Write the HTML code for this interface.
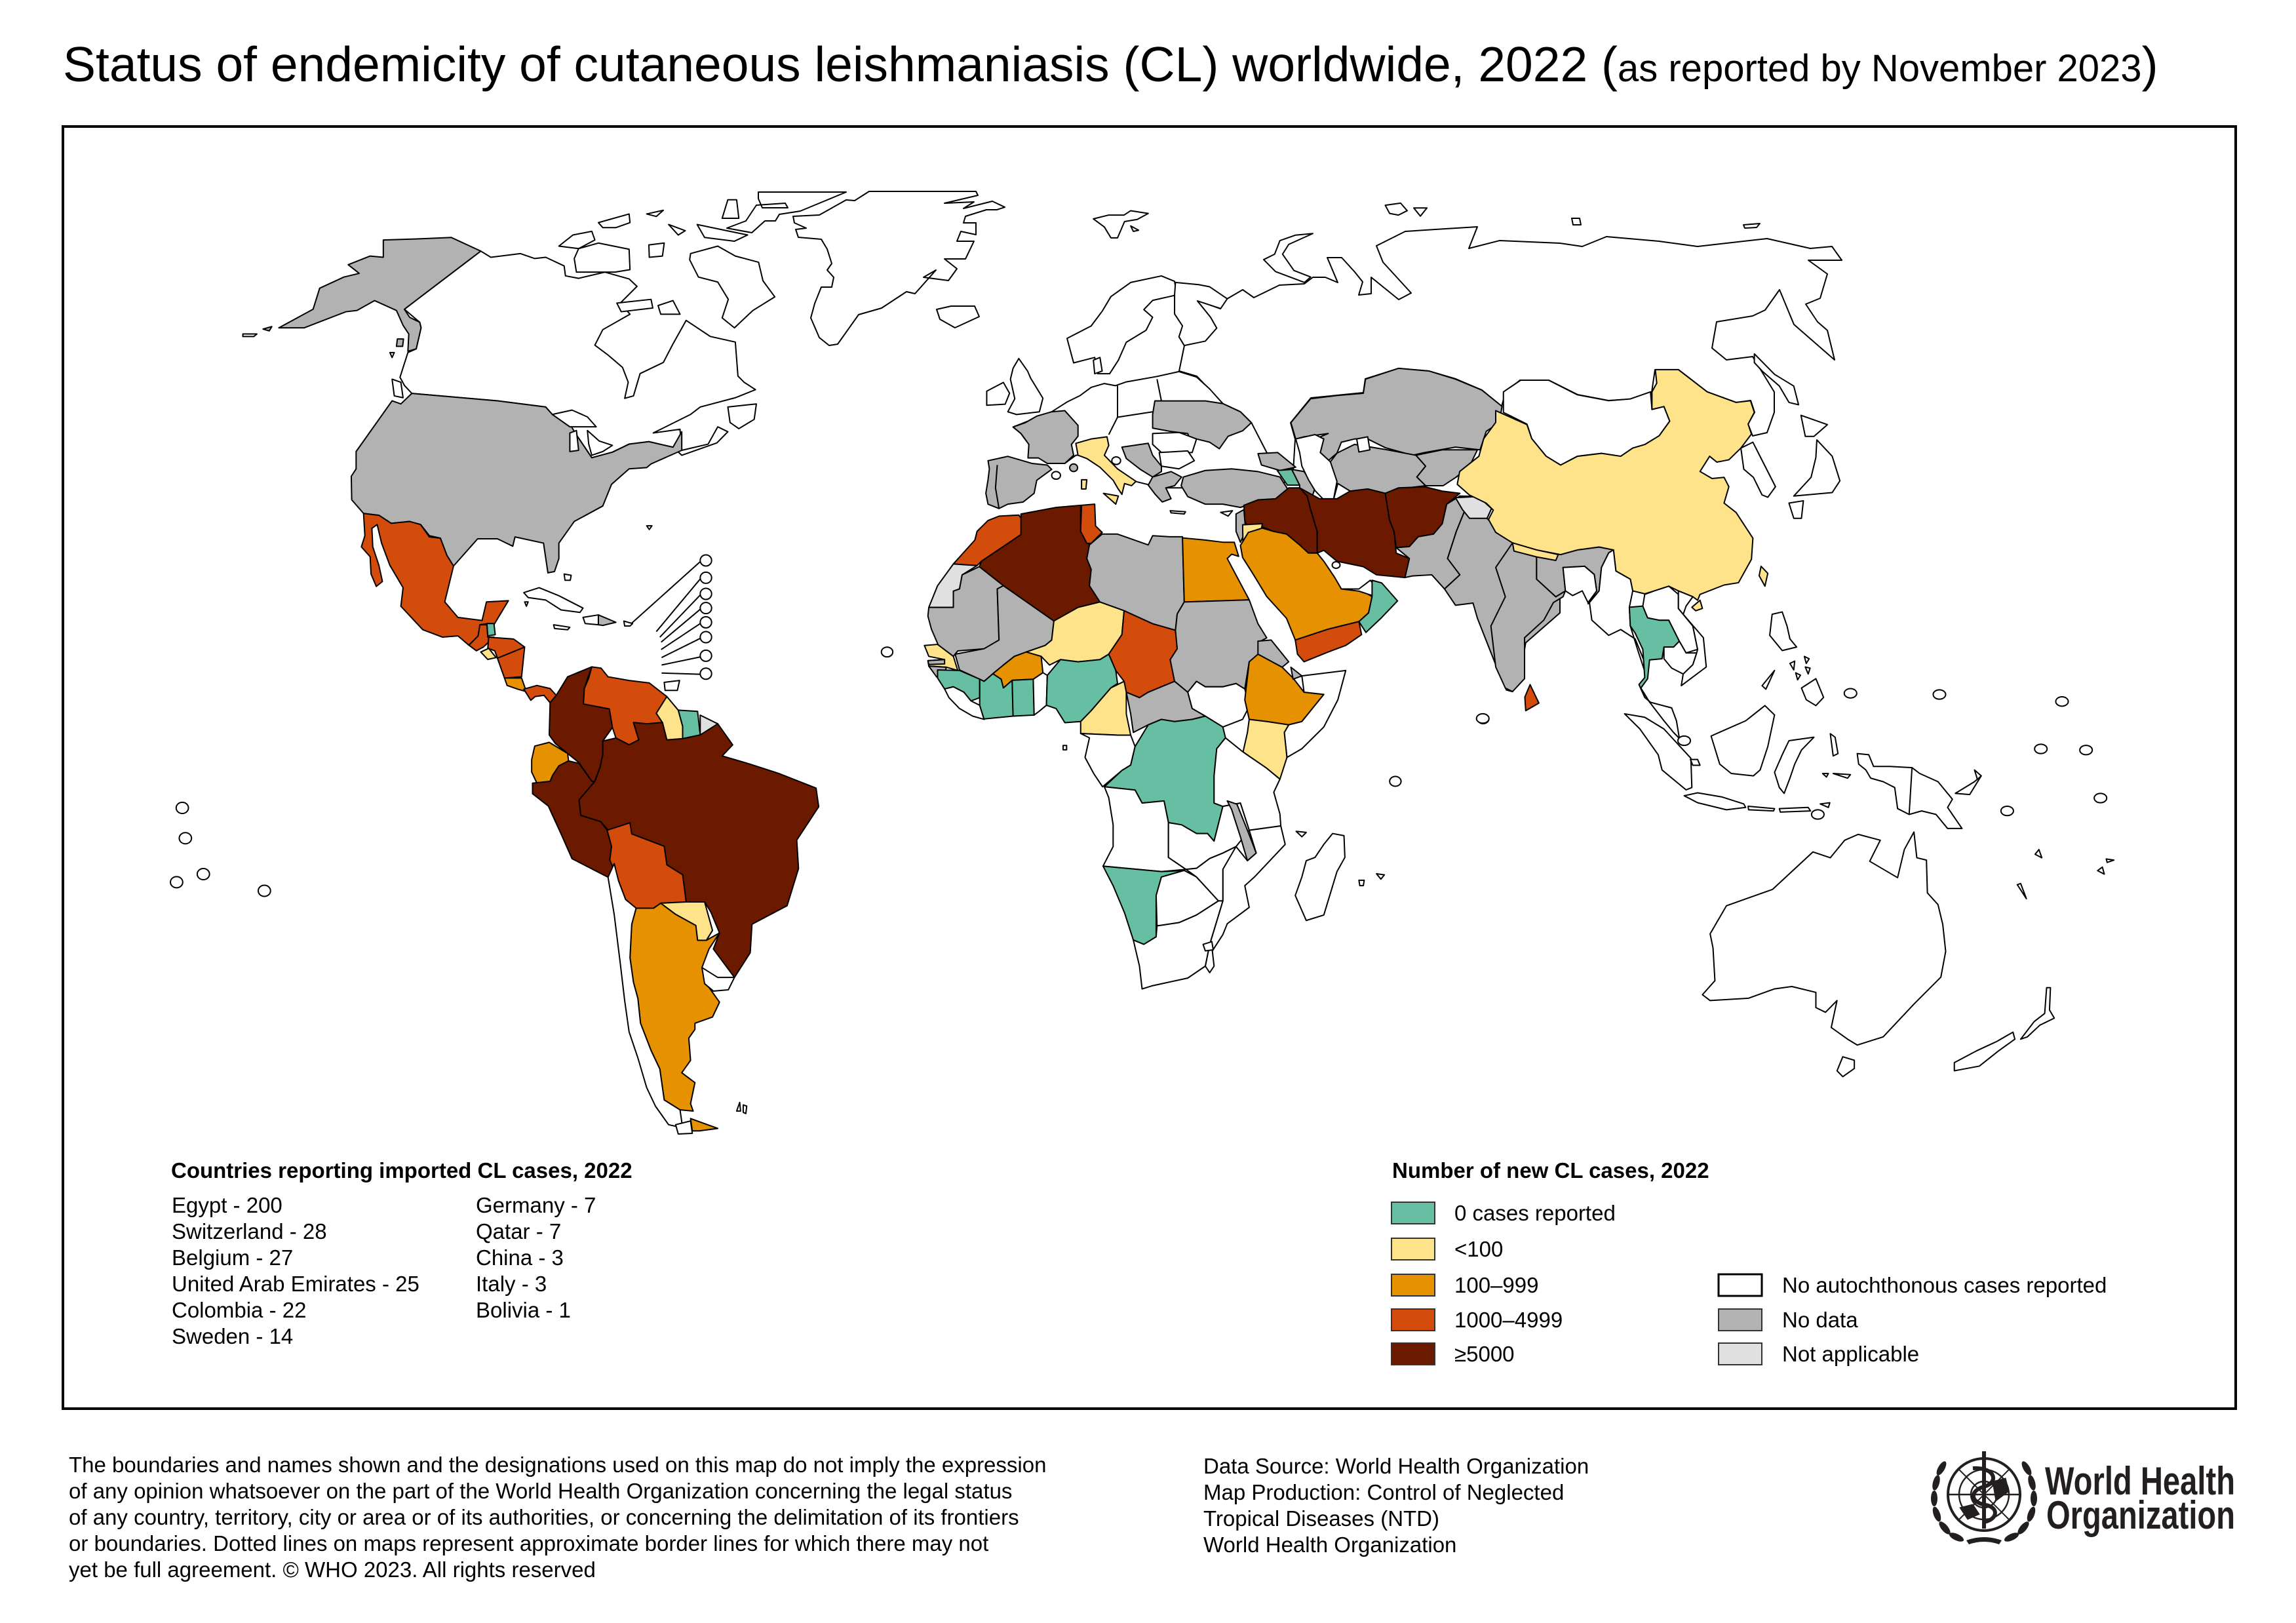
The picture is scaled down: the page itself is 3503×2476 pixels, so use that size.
<!DOCTYPE html>
<html><head><meta charset="utf-8"><style>
html,body{margin:0;padding:0;background:#fff}
svg{display:block}
.m polygon,.m polyline,.m ellipse,.m line{stroke:#000;stroke-width:2;vector-effect:non-scaling-stroke;stroke-linejoin:round}
.m polyline,.m line{fill:none}
.g{fill:#b2b2b2}.y{fill:#fee38b}.o{fill:#e69100}.r{fill:#d44c0c}.d{fill:#6b1a00}.t{fill:#66bfa3}.l{fill:#e0e0e0}.w{fill:#fff}
text{font-family:"Liberation Sans",Arial,sans-serif;fill:#000}
</style></head><body>
<svg width="3503" height="2476" viewBox="0 0 3503 2476" xmlns="http://www.w3.org/2000/svg">
<rect x="0" y="0" width="3503" height="2476" fill="#fff"/>
<text x="96" y="124" font-size="75">Status of endemicity of cutaneous leishmaniasis (CL) worldwide, 2022 (<tspan font-size="58">as reported by November 2023</tspan>)</text>
<rect x="96" y="193" width="3315" height="1956" fill="none" stroke="#000" stroke-width="4"/>

<!-- Russia + Greenland + Iceland in original coords -->
<g class="m">
<polygon class="w" points="1872,456 1896,442 1913,454 1952,435 1990,433 2003,423 2022,423 2041,431 2025,393 2047,393 2067,415 2079,430 2073,450 2092,448 2092,423 2134,457 2153,447 2110,400 2100,375 2144,353 2190,350 2254,346 2241,379 2288,367 2380,371 2414,376 2451,361 2531,368 2590,376 2696,364 2762,379 2795,376 2810,397 2759,397 2788,418 2777,455 2755,464 2773,491 2788,504 2799,549 2737,495 2715,442 2693,473 2674,482 2619,491 2612,531 2634,549 2674,544 2707,598 2707,629 2696,660 2674,665 2667,647 2677,629 2671,611 2649,614 2605,598 2561,564 2525,564 2520,598 2487,609 2454,611 2407,602 2363,580 2319,580 2297,598 2291,620 2261,595 2221,578 2180,566 2134,562 2083,578 2080,599 2040,603 2000,607 1969,645 1976,670 1973,719 1946,715 1919,695 1909,645 1892,628 1866,616 1846,595 1826,574 1799,566 1807,527 1839,520 1856,500 1846,483 1826,458 1862,471"/>
<polygon class="w" points="1210,330 1250,328 1291,305 1304,306 1326,292 1489,292 1492,298 1441,310 1486,308 1470,318 1514,307 1533,316 1521,320 1505,320 1473,330 1470,340 1489,340 1489,358 1466,353 1460,368 1486,368 1473,395 1441,395 1460,410 1447,428 1409,423 1428,412 1396,448 1383,445 1345,470 1310,480 1278,525 1265,527 1250,515 1237,485 1243,463 1253,438 1269,438 1272,423 1262,412 1269,402 1262,380 1253,365 1218,362 1214,350 1230,348 1212,340"/>
<polygon class="w" points="1157,293 1291,293 1250,310 1221,322 1189,327 1183,337 1167,337 1147,355 1109,348 1138,337 1154,313 1198,310 1202,317 1163,317 1157,303"/>
<polygon class="w" points="1429,472 1451,467 1487,467 1494,483 1457,500 1434,487"/>
<polygon class="w" points="2398,333 2410,333 2412,343 2400,343"/>
<polygon class="w" points="2660,343 2685,341 2680,347 2662,348"/>
</g>

<!-- Americas -->
<g class="m" transform="translate(250,300) scale(0.66964,0.94388)">
<polygon class="w" points="722,88 745,98 812,92 845,100 870,98 912,112 915,128 945,132 1005,122 1060,133 1078,145 1040,172 1062,190 1000,215 982,240 1012,256 1045,276 1058,300 1050,326 1070,322 1085,286 1138,268 1160,238 1190,200 1245,226 1302,235 1308,290 1322,300 1348,312 1302,325 1222,340 1200,352 1115,382 1176,376 1180,410 1240,400 1262,372 1285,380 1260,398 1180,418 1160,405 1105,396 1060,400 1022,413 975,422 940,385 885,352 870,340 760,330 565,318 548,305 538,292 556,252 575,246 586,212 583,203 548,182"/>
<polygon class="w" points="1285,340 1350,335 1345,360 1310,375 1290,365"/>
<polygon class="w" points="900,80 932,62 975,56 982,70 945,84"/>
<polygon class="w" points="945,84 990,75 1060,85 1062,118 1028,122 940,122 935,100"/>
<polygon class="w" points="990,42 1060,28 1062,42 1030,50 1000,50"/>
<polygon class="w" points="1100,28 1138,22 1122,32"/>
<polygon class="w" points="1150,45 1188,55 1172,62"/>
<polygon class="w" points="1215,45 1282,55 1330,62 1300,72 1232,66"/>
<polygon class="w" points="1272,35 1310,35 1305,5 1285,5"/>
<polygon class="w" points="1105,78 1140,75 1136,96 1106,98"/>
<polygon class="w" points="1200,92 1262,80 1302,96 1355,106 1365,136 1392,162 1342,184 1300,212 1272,196 1286,166 1262,138 1218,130 1198,102"/>
<polygon class="w" points="1126,176 1160,168 1176,190 1132,190"/>
<polygon class="w" points="1032,172 1110,166 1114,180 1042,186"/>
<polygon class="g" points="500,70 590,68 655,66 722,88 548,182 560,195 583,203 586,212 575,246 556,250 558,222 545,208 530,184 480,168 440,184 415,186 320,212 262,212 340,182 355,148 410,130 445,124 420,110 470,96 500,98"/>
<polygon class="w" points="180,222 212,222 205,226 180,226"/>
<polygon class="g" points="226,214 246,210 240,217"/>
<polygon class="g" points="532,230 546,230 544,242 530,242"/>
<polygon class="w" points="515,252 525,252 520,260"/>
<polygon class="w" points="520,295 540,300 545,325 525,322"/>
<polygon class="g" points="565,318 760,330 870,340 885,352 920,362 940,385 975,422 1022,413 1060,400 1105,396 1160,405 1180,380 1180,410 1110,432 1100,438 1060,440 1020,465 1000,500 935,525 900,560 900,585 890,606 875,608 865,560 800,550 795,565 760,553 715,553 660,597 645,580 630,552 605,548 585,530 560,525 518,528 490,515 455,512 428,490 427,452 438,440 438,412 520,330 540,335"/>
<polygon class="w" points="885,352 930,345 965,356 985,372 955,372 925,372"/>
<polygon class="w" points="925,382 940,378 945,410 925,412"/>
<polygon class="w" points="965,378 992,395 1022,402 1000,412 975,418 968,400"/>
<polygon class="w" points="820,640 855,632 900,645 955,665 948,672 905,668 870,652 830,648"/>
<polygon class="w" points="888,692 925,696 920,700 890,698"/>
<polygon class="w" points="955,680 990,676 990,692 960,690"/>
<polygon class="g" points="990,676 1030,688 1000,693 990,692"/>
<polygon class="w" points="1048,686 1068,690 1062,694 1050,694"/>
<polygon class="w" points="912,610 928,612 926,620 914,620"/>
<polygon class="w" points="1100,532 1112,532 1106,538"/>
<polygon class="w" points="822,655 830,655 826,662"/>
<polygon class="r" points="455,512 490,515 518,528 560,525 585,530 605,550 630,552 645,580 660,597 640,655 670,680 725,685 735,655 785,653 752,692 738,690 720,692 716,710 695,725 670,710 635,712 590,700 540,662 545,632 515,596 496,560 486,530 474,536 476,566 490,596 498,622 484,630 472,610 470,582 450,566 458,548"/>
<polygon class="t" points="736,690 752,690 755,708 738,710"/>
<polygon class="r" points="695,725 716,710 720,692 736,692 738,712 752,712 728,728 712,734"/>
<polygon class="r" points="740,712 797,715 822,728 782,746 760,746 754,734 738,730"/>
<polygon class="y" points="722,736 740,730 757,745 738,748"/>
<polygon class="r" points="760,746 822,728 815,776 776,778"/>
<polygon class="o" points="776,778 815,778 826,800 806,796 782,790"/>
<polygon class="r" points="820,796 850,790 880,795 894,806 880,818 866,806 846,808 836,814"/>
<polygon class="d" points="880,818 894,806 920,776 975,760 966,778 958,795 956,820 1015,828 1022,858 1000,880 1000,902 994,922 982,945 975,945 946,915 920,900 892,884 878,870"/>
<polygon class="r" points="958,795 968,778 975,760 996,762 1012,776 1060,782 1106,786 1146,808 1122,835 1136,850 1100,852 1070,850 1082,878 1060,886 1030,875 1022,858 1015,828 956,820"/>
<polygon class="y" points="1122,835 1146,808 1172,830 1182,856 1182,876 1146,878 1136,850"/>
<polygon class="t" points="1172,830 1216,832 1222,870 1182,876 1182,856"/>
<polygon class="l" points="1222,838 1262,852 1226,872 1222,870"/>
<polygon class="o" points="838,910 845,888 878,882 920,900 922,912 900,920 886,935 880,945 850,948 838,930"/>
<polygon class="d" points="840,948 880,945 886,935 900,920 922,912 946,916 975,945 982,945 946,975 950,1000 995,1010 1010,1024 1020,1050 1016,1072 1026,1078 1012,1100 930,1070 905,1030 876,985 840,965"/>
<polygon class="d" points="1000,880 1030,875 1060,886 1082,878 1070,850 1100,852 1136,850 1146,878 1182,876 1222,870 1262,852 1296,886 1272,904 1330,916 1400,932 1486,956 1492,986 1442,1040 1446,1086 1420,1146 1340,1176 1336,1222 1300,1262 1252,1216 1266,1190 1246,1156 1232,1140 1190,1140 1182,1096 1146,1080 1140,1050 1062,1030 1020,1030 995,1010 950,1000 946,975 982,945 994,922 1000,902"/>
<polygon class="r" points="1010,1024 1062,1012 1066,1030 1140,1050 1146,1080 1182,1096 1190,1140 1132,1142 1116,1150 1076,1150 1052,1136 1036,1106 1016,1072 1020,1050"/>
<polygon class="y" points="1132,1142 1190,1140 1232,1140 1250,1186 1236,1202 1216,1202 1212,1178 1166,1160"/>
<polygon class="o" points="1076,1150 1116,1150 1132,1142 1166,1160 1212,1178 1216,1202 1236,1202 1266,1190 1242,1216 1226,1246 1240,1276 1266,1302 1250,1326 1210,1336 1210,1346 1196,1360 1200,1396 1180,1416 1210,1432 1200,1466 1206,1478 1176,1476 1140,1460 1130,1410 1110,1380 1086,1336 1080,1296 1070,1270 1062,1230 1066,1176"/>
<polygon class="w" points="1226,1246 1262,1262 1300,1262 1286,1282 1252,1284 1232,1272"/>
<polygon class="w" points="1012,1100 1026,1078 1036,1106 1052,1136 1076,1150 1066,1176 1062,1230 1070,1270 1080,1296 1086,1336 1110,1380 1130,1410 1140,1460 1176,1476 1182,1505 1150,1500 1120,1470 1100,1440 1080,1392 1060,1350 1050,1300 1040,1240 1026,1160"/>
<polygon class="o" points="1200,1490 1262,1506 1220,1510 1204,1510"/>
<polygon class="w" points="1166,1500 1200,1494 1204,1514 1172,1515"/>
<polygon class="w" points="1305,1478 1312,1464 1314,1478"/>
<polygon class="w" points="1320,1468 1328,1470 1326,1482 1320,1480"/>
<line x1="1065" y1="690" x2="1222" y2="590"/>
<line x1="1122" y1="703" x2="1222" y2="618"/>
<line x1="1130" y1="712" x2="1222" y2="644"/>
<line x1="1133" y1="720" x2="1222" y2="667"/>
<line x1="1133" y1="732" x2="1222" y2="690"/>
<line x1="1134" y1="745" x2="1222" y2="714"/>
<line x1="1134" y1="757" x2="1222" y2="744"/>
<line x1="1134" y1="770" x2="1222" y2="772"/>
<ellipse class="w" cx="1235" cy="588" rx="13" ry="9"/>
<ellipse class="w" cx="1235" cy="616" rx="13" ry="9"/>
<ellipse class="w" cx="1235" cy="642" rx="13" ry="9"/>
<ellipse class="w" cx="1235" cy="665" rx="13" ry="9"/>
<ellipse class="w" cx="1235" cy="688" rx="13" ry="9"/>
<ellipse class="w" cx="1235" cy="712" rx="13" ry="9"/>
<ellipse class="w" cx="1235" cy="742" rx="13" ry="9"/>
<ellipse class="w" cx="1235" cy="771" rx="13" ry="9"/>
<polygon class="w" points="1140,785 1175,782 1170,798 1142,798"/>
<ellipse class="w" cx="42" cy="988" rx="14" ry="9"/>
<ellipse class="w" cx="49" cy="1037" rx="14" ry="9"/>
<ellipse class="w" cx="29" cy="1108" rx="14" ry="9"/>
<ellipse class="w" cx="90" cy="1095" rx="14" ry="9"/>
<ellipse class="w" cx="229" cy="1122" rx="14" ry="9"/>
</g>

<!-- Europe / Africa / Middle East -->
<g class="m" transform="translate(1330,280) scale(0.66964,0.82908)">
<polygon class="w" points="505,65 540,58 575,58 590,50 630,55 605,66 576,70 560,100 545,100 530,80"/>
<polygon class="w" points="590,78 608,86 596,88"/>
<polygon class="w" points="893,140 918,130 930,105 965,95 1005,92 950,112 936,130 962,160 1000,172 986,182 920,162"/>
<polygon class="w" points="1170,40 1205,36 1220,50 1200,58 1180,55"/>
<polygon class="w" points="1235,45 1265,45 1250,60"/>
<polygon class="w" points="410,420 445,402 475,390 500,375 530,368 555,372 580,365 650,355 700,346 740,356 770,378 800,405 840,420 865,440 900,495 940,520 960,545 900,560 705,560 660,560 600,548 560,525 520,500 465,500 440,515 400,515 358,480 340,460 322,448"/>
<polygon class="w" points="445,285 500,262 525,235 545,208 590,182 660,170 690,180 695,205 640,215 620,232 640,246 625,270 580,292 562,325 542,350 515,350 508,320 460,330"/>
<polygon class="w" points="692,182 745,186 770,190 810,212 795,230 742,216 772,246 786,266 760,290 712,298 700,282 708,262 690,240 690,205"/>
<polygon class="w" points="505,325 520,320 525,345 508,350"/>
<polygon class="w" points="335,322 355,345 362,358 390,395 382,420 330,425 310,420 326,396 316,360 322,340"/>
<polygon class="w" points="262,382 300,366 314,386 304,406 262,408"/>
<polyline points="560,372 560,430 540,462"/>
<polyline points="650,360 660,400 645,400"/>
<polyline points="640,420 560,430"/>
<polygon class="g" points="322,448 350,440 376,428 410,420 440,418 470,445 470,465 455,480 460,500 440,515 400,515 380,505 356,505 358,480 340,460"/>
<polygon class="g" points="265,510 310,502 365,515 400,518 410,526 376,546 370,570 345,586 310,590 290,598 265,590 260,570 265,545 268,525"/>
<polyline points="286,518 282,560 290,598"/>
<polygon class="g" points="645,400 700,400 760,400 800,405 840,420 865,440 845,455 812,465 792,488 770,476 740,470 730,482 720,460 680,456 640,450 640,425"/>
<polygon class="w" points="640,460 700,458 740,470 730,495 660,495 640,480"/>
<polygon class="w" points="655,495 720,492 735,510 700,525 660,520"/>
<polygon class="g" points="570,485 630,478 640,500 660,520 660,530 640,540 612,526 580,506"/>
<polygon class="g" points="640,540 682,530 706,540 690,556 670,560 682,580 662,586 646,572 630,555"/>
<polygon class="g" points="710,540 760,528 820,525 880,530 930,540 946,560 952,578 905,585 862,590 840,596 800,590 760,590 720,576 705,556"/>
<polygon class="y" points="465,478 500,470 536,466 540,482 530,500 560,525 602,548 592,556 576,552 570,572 560,560 550,546 520,522 490,506 470,500"/>
<polygon class="y" points="528,570 562,575 556,590"/>
<polygon class="y" points="478,545 490,545 488,562 478,562"/>
<ellipse class="g" cx="460" cy="523" rx="9" ry="7"/>
<ellipse class="w" cx="420" cy="537" rx="10" ry="7"/>
<ellipse class="w" cx="557" cy="510" rx="10" ry="7"/>
<polygon class="w" points="680,602 715,604 712,608 682,606"/>
<polygon class="w" points="795,605 822,602 812,612"/>
<polygon class="g" points="880,497 925,495 966,522 930,528 888,518"/>
<polygon class="t" points="924,528 957,526 975,555 947,555"/>
<polygon class="g" points="957,526 985,530 1010,560 1002,580 975,575 975,555"/>
<polygon class="g" points="955,440 1000,396 1060,390 1120,386 1125,360 1200,340 1270,345 1330,360 1390,380 1436,410 1430,440 1400,456 1386,490 1330,485 1260,495 1232,500 1170,486 1130,470 1100,470 1070,476 1060,496 1040,510 1022,495 1010,470 1040,460 985,466 966,470"/>
<polygon class="g" points="1045,512 1060,496 1100,480 1175,490 1240,500 1262,520 1242,540 1262,556 1200,562 1170,570 1130,562 1090,566 1062,552 1052,582"/>
<polygon class="g" points="1240,500 1300,490 1380,490 1362,520 1332,540 1302,556 1262,556 1242,540 1262,520"/>
<polygon class="w" points="966,470 1010,462 1030,470 1022,495 1045,512 1060,548 1052,582 1030,582 1010,565 995,545 980,520 975,495"/>
<polygon class="w" points="1105,470 1130,466 1135,490 1110,494"/>
<polygon class="d" points="848,592 880,582 920,580 950,560 975,560 995,576 1000,600 1015,640 1015,680 995,680 975,665 945,645 915,640 890,632 860,640 850,620"/>
<polygon class="d" points="975,560 1020,580 1060,580 1090,566 1130,562 1170,570 1180,620 1190,640 1195,680 1225,690 1215,725 1150,720 1120,705 1090,700 1060,695 1030,675 1015,680 1015,640 1000,600 992,575"/>
<polygon class="d" points="1170,570 1200,560 1260,558 1300,566 1340,570 1310,590 1300,626 1280,645 1245,650 1225,668 1195,670 1190,640 1180,620"/>
<polygon class="g" points="1195,670 1225,668 1245,650 1280,645 1300,626 1310,590 1340,575 1352,600 1332,640 1312,690 1340,720 1305,746 1276,720 1232,722 1215,725 1225,690"/>
<polygon class="g" points="1340,575 1392,576 1412,598 1402,616 1412,625 1460,660 1462,686 1560,696 1568,700 1568,790 1490,845 1480,892 1460,935 1446,932 1420,882 1380,800 1370,772 1330,776 1305,746 1340,720 1312,690 1332,640 1352,600"/>
<polygon class="l" points="1330,578 1382,576 1412,598 1402,616 1362,616 1346,600"/>
<polygon class="y" points="1460,660 1530,676 1562,682 1556,696 1470,686"/>
<polygon class="g" points="830,608 848,600 852,640 840,660 830,640"/>
<polygon class="y" points="845,628 890,626 882,660 870,676 846,670"/>
<polygon class="o" points="840,666 858,642 890,634 915,640 945,645 975,665 995,680 1015,680 1030,695 1055,725 1070,746 1110,746 1140,760 1132,790 1110,806 1040,820 980,836 965,840 945,800 900,760 870,720 845,688"/>
<polygon class="w" points="1070,746 1110,746 1136,730 1146,740 1140,758 1110,750"/>
<polygon class="t" points="1140,730 1162,735 1198,768 1160,800 1126,826 1110,806 1132,790 1140,760"/>
<polygon class="r" points="965,840 980,836 1040,820 1110,806 1116,830 1080,850 1040,862 985,880 970,866"/>
<polygon class="r" points="1500,922 1520,956 1490,970 1488,945"/>
<polygon class="r" points="290,612 335,610 346,622 340,646 250,695 240,703 186,700 235,656 240,640 265,620"/>
<polygon class="l" points="186,700 240,703 206,720 200,746 186,750 186,780 130,780 150,740"/>
<polygon class="d" points="340,608 420,596 476,592 476,640 496,665 490,690 500,710 496,740 520,770 470,780 415,805 300,740 245,705 250,695 340,646"/>
<polygon class="r" points="478,592 508,590 510,630 525,642 500,662 490,662 476,640"/>
<polygon class="g" points="496,665 525,645 560,645 630,665 640,648 680,650 708,650 712,770 696,792 692,822 640,810 575,786 520,770 496,740 500,710 490,690"/>
<polygon class="o" points="708,652 760,656 800,660 826,660 836,686 820,682 810,690 860,766 712,770"/>
<polygon class="g" points="130,780 186,780 186,750 200,746 206,720 245,705 300,740 286,746 290,840 256,856 196,860 186,870 152,850 136,820 128,796"/>
<polygon class="g" points="300,740 415,805 410,840 395,850 352,862 325,870 300,886 276,902 256,916 246,912 200,895 190,866 256,856 290,840 286,746"/>
<polygon class="y" points="415,805 470,780 520,770 575,786 570,830 540,866 520,876 470,880 430,876 405,886 386,870 352,862 395,850 410,840"/>
<polygon class="r" points="575,786 640,810 692,822 696,856 680,876 690,916 630,936 610,946 580,936 575,916 556,896 540,866 570,830"/>
<polygon class="g" points="712,770 860,766 880,810 900,836 886,842 880,870 860,880 850,930 830,920 800,926 760,926 740,916 720,936 690,916 680,876 696,856 692,822 696,792"/>
<polygon class="w" points="720,936 740,916 760,926 800,926 830,920 850,930 860,962 845,986 800,1000 760,980 730,966"/>
<polygon class="g" points="880,842 910,840 950,880 935,890 880,866"/>
<polygon class="o" points="880,866 935,890 960,910 985,936 1030,940 980,990 950,996 900,990 860,986 850,950 860,880"/>
<polygon class="g" points="955,890 980,906 960,912"/>
<polygon class="w" points="980,906 1080,896 1062,950 1030,1000 980,1040 946,1056 940,1010 950,996 980,990 1030,940 985,936"/>
<polygon class="y" points="860,986 900,990 950,996 940,1010 946,1056 930,1096 900,1076 846,1046 856,1010"/>
<polygon class="y" points="120,850 150,848 186,870 196,896 170,890 130,888 128,878 166,876 130,870"/>
<polygon class="g" points="128,878 166,876 166,884 130,885"/>
<polygon class="g" points="130,888 170,890 165,905 148,908"/>
<polygon class="t" points="150,895 200,896 246,912 246,946 226,952 210,936 186,926 166,930 150,910"/>
<polygon class="w" points="166,930 186,926 210,936 226,952 246,960 256,986 230,980 200,966 176,946"/>
<polygon class="t" points="246,912 256,916 276,902 295,912 300,928 320,914 322,980 258,985 256,986 246,960"/>
<polygon class="t" points="320,914 368,912 370,978 322,980"/>
<polygon class="w" points="368,912 390,900 400,905 398,960 380,972 370,978"/>
<polygon class="o" points="276,902 300,886 325,870 352,862 386,870 390,900 368,912 320,914 300,928 295,912"/>
<polygon class="t" points="400,905 430,876 470,880 520,876 540,866 556,896 560,920 545,928 500,970 476,990 440,992 420,966 398,960"/>
<polygon class="y" points="545,928 575,916 580,936 580,976 590,1015 560,1015 476,1012 476,990 500,970"/>
<polygon class="g" points="580,936 610,946 630,936 690,916 720,936 730,966 760,980 730,986 690,990 660,986 630,996 596,1010 590,976"/>
<polygon class="w" points="476,1012 560,1015 590,1015 600,1036 590,1070 570,1080 526,1110 506,1086 486,1056 496,1020"/>
<polygon class="t" points="600,1036 630,996 660,986 690,990 730,986 760,980 800,1000 806,1020 786,1040 780,1090 780,1140 800,1146 780,1210 765,1196 740,1196 706,1180 676,1176 666,1136 616,1140 600,1116 530,1110 570,1080 590,1070"/>
<polygon class="w" points="806,1020 846,1046 900,1076 930,1096 916,1120 930,1160 932,1182 860,1190 840,1140 800,1146 780,1140 780,1090 786,1040"/>
<polygon class="w" points="530,1110 600,1116 616,1140 666,1136 676,1176 676,1240 716,1262 660,1266 527,1256 550,1220 550,1180 540,1130"/>
<polygon class="w" points="676,1176 706,1180 740,1196 765,1196 780,1210 800,1146 840,1140 860,1190 830,1220 800,1232 770,1242 740,1260 716,1262 676,1240"/>
<polygon class="w" points="860,1190 932,1182 942,1216 872,1276 850,1292 860,1332 810,1362 800,1382 776,1412 780,1440 770,1452 760,1440 770,1400 800,1320 800,1260 830,1220 856,1246 876,1232"/>
<polygon class="g" points="810,1136 832,1142 856,1190 876,1232 856,1246 840,1202 820,1152"/>
<polygon class="t" points="527,1256 660,1266 712,1264 660,1276 648,1310 648,1386 620,1400 596,1392 576,1342 550,1292"/>
<polygon class="w" points="660,1276 712,1264 740,1276 790,1320 740,1346 700,1360 650,1366 648,1310"/>
<polygon class="w" points="716,1262 740,1260 770,1242 800,1232 830,1220 800,1262 800,1320 790,1320 740,1276"/>
<polygon class="w" points="596,1392 620,1400 648,1386 650,1366 700,1360 740,1346 790,1320 800,1320 770,1400 760,1440 720,1462 640,1476 616,1482 610,1440"/>
<polygon class="w" points="755,1400 775,1395 778,1410 760,1412"/>
<polygon class="w" points="1050,1196 1076,1200 1078,1240 1060,1266 1030,1346 990,1356 965,1310 980,1276 990,1246 1010,1240 1030,1216"/>
<polygon class="w" points="967,1192 990,1194 980,1202"/>
<polygon class="w" points="1110,1282 1122,1282 1120,1292 1112,1292"/>
<polygon class="w" points="1150,1270 1168,1272 1160,1280"/>
<polygon class="w" points="436,1034 444,1034 444,1042 436,1042"/>
<ellipse class="w" cx="35" cy="862" rx="13" ry="9"/>
<ellipse class="w" cx="1393" cy="985" rx="13" ry="9"/>
<ellipse class="w" cx="1193" cy="1100" rx="13" ry="9"/>
<ellipse class="w" cx="1058" cy="702" rx="9" ry="6"/>
</g>

<!-- Asia / Oceania -->
<g class="m" transform="translate(2150,330) scale(0.73342,0.89286)">
<polygon class="w" points="718,235 760,270 800,290 810,322 790,318 770,290 735,265 718,250"/>
<polygon class="w" points="196,300 232,280 290,280 350,305 415,315 460,312 502,300 505,330 530,325 542,350 520,375 490,390 465,396 440,410 400,405 350,410 315,425 285,410 255,380 245,355 196,335"/>
<polygon class="g" points="215,558 265,570 265,620 305,650 325,640 320,650 300,660 280,690 240,720 240,790 215,812 200,806 180,770 170,700 200,650 180,600"/>
<polygon class="g" points="265,570 315,578 350,570 395,565 425,570 415,575 400,600 395,640 375,660 372,662 390,640 385,612 365,598 320,600 325,640 305,650 265,620"/>
<polygon class="y" points="180,332 245,356 255,380 285,410 315,425 350,410 400,405 440,410 465,396 490,390 520,375 542,350 530,325 505,330 505,300 515,285 512,262 560,262 620,300 680,318 710,315 718,335 705,355 712,372 690,396 665,416 640,420 625,410 605,436 630,448 655,446 665,462 655,490 680,506 715,550 712,586 685,626 655,630 605,646 600,656 590,650 560,640 540,632 510,640 490,645 465,640 460,620 430,606 425,570 395,565 350,570 315,578 265,570 215,558 180,540 165,518 175,502 160,490 125,476 100,458 105,436 145,410 155,380 180,352"/>
<polygon class="y" points="215,558 265,570 310,578 305,588 265,582 218,572"/>
<polygon class="y" points="732,598 746,610 740,632 728,614"/>
<polygon class="y" points="588,668 605,656 610,670 596,674"/>
<polygon class="w" points="690,396 715,386 736,420 762,462 746,480 734,476 716,446 696,432"/>
<polygon class="w" points="815,340 870,356 842,376 824,376"/>
<polygon class="w" points="848,382 880,410 896,452 880,472 800,478 836,446 846,412"/>
<polygon class="w" points="790,490 820,486 816,516 800,516"/>
<polygon class="w" points="425,570 430,606 460,620 465,640 458,668 460,700 475,740 495,790 490,762 470,722 440,706 415,716 380,690 375,660 395,640 400,600 415,575"/>
<polygon class="w" points="320,600 365,598 385,612 390,640 372,660 360,640 340,648 325,640"/>
<polygon class="t" points="458,668 486,666 496,686 520,690 540,690 562,726 550,736 530,736 526,756 500,758 496,790 482,806 500,830 546,840 510,836 490,822 478,800 490,788 486,740 470,712 460,700"/>
<polygon class="w" points="490,646 510,640 540,632 560,646 560,670 590,700 600,740 576,746 562,726 540,690 520,690 496,686 486,666"/>
<polygon class="w" points="560,640 590,650 576,666 570,680 612,720 618,770 566,802 570,782 590,766 598,746 600,740 590,700 560,670"/>
<polygon class="w" points="530,736 550,736 562,726 576,746 598,746 590,766 570,782 546,772 530,756"/>
<polygon class="w" points="500,830 546,840 556,862 562,892 550,882 530,862"/>
<polygon class="w" points="448,850 490,856 530,876 586,926 588,976 576,980 526,946 518,920 480,876"/>
<polygon class="w" points="628,888 650,880 700,862 740,836 760,852 746,906 730,946 716,956 670,952 646,936"/>
<polygon class="w" points="790,896 842,890 816,912 802,936 792,960 780,986 770,976 760,950 776,920"/>
<polygon class="w" points="876,884 886,890 892,918 882,922"/>
<polygon class="w" points="572,990 600,985 650,992 696,1004 700,1010 660,1014 600,1002"/>
<polygon class="w" points="705,1008 760,1012 758,1016 706,1014"/>
<polygon class="w" points="770,1012 830,1010 835,1016 772,1018"/>
<polygon class="w" points="855,1004 875,1002 872,1010"/>
<polygon class="w" points="882,952 918,954 912,960"/>
<polygon class="w" points="860,952 872,952 868,958"/>
<polygon class="w" points="585,928 600,928 605,938 590,938"/>
<polygon class="w" points="932,918 956,920 966,940 1000,940 1046,942 1062,952 1100,966 1130,996 1120,1010 1150,1046 1120,1046 1096,1022 1066,1016 1040,1022 1016,1012 1010,976 986,966 960,960 950,946 935,936"/>
<line x1="1046" y1="942" x2="1040" y2="1022"/>
<polygon class="w" points="755,680 776,676 786,700 792,722 806,736 776,742 750,716"/>
<polygon class="w" points="816,806 846,790 862,822 846,836 826,826"/>
<polygon class="w" points="734,802 760,776 742,808"/>
<polygon class="w" points="792,764 802,760 800,775"/>
<polygon class="w" points="822,752 832,756 826,764"/>
<polygon class="w" points="804,780 814,784 808,792"/>
<polygon class="w" points="824,770 834,772 830,782"/>
<polygon class="w" points="1136,986 1176,966 1190,956 1166,988"/>
<polygon class="w" points="1176,946 1190,956 1182,962"/>
<polygon class="w" points="610,1330 636,1306 632,1250 626,1226 660,1178 756,1150 840,1086 876,1096 906,1066 934,1056 980,1066 958,1102 1016,1130 1030,1082 1050,1052 1056,1096 1076,1100 1078,1156 1100,1176 1110,1210 1116,1256 1106,1300 1050,1346 986,1402 932,1416 912,1406 878,1386 890,1340 866,1360 846,1352 846,1326 796,1316 760,1320 706,1336 626,1340"/>
<polygon class="w" points="890,1460 902,1436 926,1442 926,1456 902,1470"/>
<polygon class="w" points="1272,1406 1300,1376 1322,1362 1326,1318 1334,1318 1332,1356 1342,1370 1312,1382 1286,1402"/>
<polygon class="w" points="1134,1446 1180,1426 1222,1410 1256,1394 1260,1406 1226,1426 1186,1452 1134,1460"/>
<polygon class="w" points="1302,1090 1310,1082 1316,1096"/>
<polygon class="w" points="1265,1142 1272,1140 1284,1166"/>
<polygon class="w" points="1432,1118 1442,1112 1446,1124"/>
<polygon class="w" points="1450,1098 1466,1100 1452,1104"/>
<ellipse class="w" cx="918" cy="815" rx="13" ry="8"/>
<ellipse class="w" cx="1103" cy="817" rx="13" ry="8"/>
<ellipse class="w" cx="1358" cy="829" rx="13" ry="8"/>
<ellipse class="w" cx="1314" cy="910" rx="13" ry="8"/>
<ellipse class="w" cx="1408" cy="912" rx="13" ry="8"/>
<ellipse class="w" cx="1438" cy="994" rx="13" ry="8"/>
<ellipse class="w" cx="1244" cy="1016" rx="13" ry="8"/>
<ellipse class="w" cx="153" cy="858" rx="13" ry="8"/>
<ellipse class="w" cx="572" cy="896" rx="13" ry="8"/>
<ellipse class="w" cx="850" cy="1022" rx="13" ry="8"/>
</g>

<!-- Left legend -->
<text x="261" y="1797" font-size="33" font-weight="bold">Countries reporting imported CL cases, 2022</text>
<g font-size="33">
<text x="262" y="1850">Egypt - 200</text>
<text x="262" y="1890">Switzerland - 28</text>
<text x="262" y="1930">Belgium - 27</text>
<text x="262" y="1970">United Arab Emirates - 25</text>
<text x="262" y="2010">Colombia - 22</text>
<text x="262" y="2050">Sweden - 14</text>
<text x="726" y="1850">Germany - 7</text>
<text x="726" y="1890">Qatar - 7</text>
<text x="726" y="1930">China - 3</text>
<text x="726" y="1970">Italy - 3</text>
<text x="726" y="2010">Bolivia - 1</text>
</g>

<!-- Right legend -->
<text x="2124" y="1797" font-size="33" font-weight="bold">Number of new CL cases, 2022</text>
<g stroke="#333" stroke-width="2">
<rect x="2123" y="1834" width="66" height="33" fill="#66bfa3"/>
<rect x="2123" y="1889" width="66" height="33" fill="#fee38b"/>
<rect x="2123" y="1944" width="66" height="33" fill="#e69100"/>
<rect x="2123" y="1997" width="66" height="33" fill="#d44c0c"/>
<rect x="2123" y="2049" width="66" height="33" fill="#6b1a00"/>
<rect x="2622" y="1944" width="66" height="33" fill="#fff" stroke="#000" stroke-width="3"/>
<rect x="2622" y="1997" width="66" height="33" fill="#b2b2b2"/>
<rect x="2622" y="2049" width="66" height="33" fill="#e0e0e0"/>
</g>
<g font-size="33">
<text x="2219" y="1862">0 cases reported</text>
<text x="2219" y="1917">&lt;100</text>
<text x="2219" y="1972">100–999</text>
<text x="2219" y="2025">1000–4999</text>
<text x="2219" y="2077">≥5000</text>
<text x="2719" y="1972">No autochthonous cases reported</text>
<text x="2719" y="2025">No data</text>
<text x="2719" y="2077">Not applicable</text>
</g>

<!-- Footer -->
<g font-size="33">
<text x="105" y="2246">The boundaries and names shown and the designations used on this map do not imply the expression</text>
<text x="105" y="2286">of any opinion whatsoever on the part of the World Health Organization concerning the legal status</text>
<text x="105" y="2326">of any country, territory, city or area or of its authorities, or concerning the delimitation of its frontiers</text>
<text x="105" y="2366">or boundaries. Dotted lines on maps represent approximate border lines for which there may not</text>
<text x="105" y="2406">yet be full agreement. © WHO 2023. All rights reserved</text>
<text x="1836" y="2248">Data Source: World Health Organization</text>
<text x="1836" y="2288">Map Production: Control of Neglected</text>
<text x="1836" y="2328">Tropical Diseases (NTD)</text>
<text x="1836" y="2368">World Health Organization</text>
</g>

<!-- WHO logo -->
<g stroke="#231f20" fill="none">
<circle cx="3027" cy="2280" r="55" stroke-width="4"/>
<circle cx="3027" cy="2280" r="38" stroke-width="2.5"/>
<circle cx="3027" cy="2280" r="20" stroke-width="2.5"/>
<line x1="2972" y1="2280" x2="3082" y2="2280" stroke-width="2.5"/>
<line x1="2988" y1="2241" x2="3066" y2="2319" stroke-width="2"/>
<line x1="3066" y1="2241" x2="2988" y2="2319" stroke-width="2"/>
<line x1="3027" y1="2214" x2="3027" y2="2332" stroke-width="6"/>
<path d="M3010,2240 C3045,2238 3050,2262 3027,2268 C3005,2274 3005,2292 3030,2296 C3050,2300 3048,2318 3027,2322" stroke-width="6"/>
<path d="M2990,2300 L3010,2295 L3020,2310 L3002,2318 Z M3040,2260 L3060,2255 L3065,2275 L3045,2290 Z" fill="#231f20" stroke-width="1"/>
</g>
<g fill="#231f20">
<ellipse cx="2962" cy="2240" rx="5" ry="12" transform="rotate(30 2962 2240)"/>
<ellipse cx="2954" cy="2262" rx="5" ry="12" transform="rotate(15 2954 2262)"/>
<ellipse cx="2951" cy="2286" rx="5" ry="12" transform="rotate(0 2951 2286)"/>
<ellipse cx="2955" cy="2310" rx="5" ry="12" transform="rotate(-20 2955 2310)"/>
<ellipse cx="2967" cy="2331" rx="5" ry="12" transform="rotate(-40 2967 2331)"/>
<ellipse cx="2985" cy="2345" rx="5" ry="12" transform="rotate(-65 2985 2345)"/>
<ellipse cx="3092" cy="2240" rx="5" ry="12" transform="rotate(-30 3092 2240)"/>
<ellipse cx="3100" cy="2262" rx="5" ry="12" transform="rotate(-15 3100 2262)"/>
<ellipse cx="3103" cy="2286" rx="5" ry="12" transform="rotate(0 3103 2286)"/>
<ellipse cx="3099" cy="2310" rx="5" ry="12" transform="rotate(20 3099 2310)"/>
<ellipse cx="3087" cy="2331" rx="5" ry="12" transform="rotate(40 3087 2331)"/>
<ellipse cx="3069" cy="2345" rx="5" ry="12" transform="rotate(65 3069 2345)"/>
<path d="M3000,2350 Q3027,2340 3054,2350 L3050,2356 Q3027,2348 3004,2356 Z"/>
</g>
<text x="3120" y="2280" font-size="60" font-weight="bold" textLength="290" lengthAdjust="spacingAndGlyphs" style="fill:#231f20">World Health</text>
<text x="3122" y="2332" font-size="60" font-weight="bold" textLength="288" lengthAdjust="spacingAndGlyphs" style="fill:#231f20">Organization</text>
</svg>
</body></html>
